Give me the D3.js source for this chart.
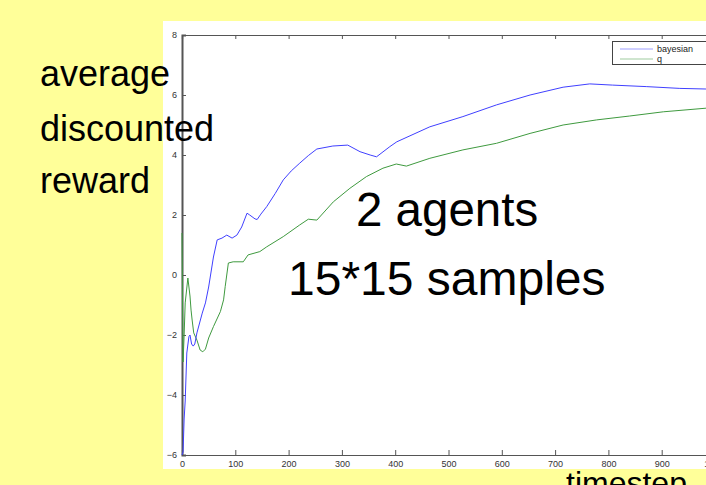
<!DOCTYPE html>
<html>
<head>
<meta charset="utf-8">
<script src="https://cdn.jsdelivr.net/npm/d3@7"></script>
<style>
  body { margin: 0; background: #ffff99; }
  svg { display: block; }
  .tick text { font-family: "Liberation Sans", Arial, sans-serif; font-size: 9px; fill: #333; }
  .big { font-family: "Liberation Sans", Arial, sans-serif; fill: #000; }
</style>
</head>
<body>
<script>

	// series
	var bayesT = [0, 2, 4, 6, 9, 13, 15, 18, 21, 24, 28, 38, 44, 50, 59, 66, 75, 84, 94, 103, 112, 122, 127, 137, 141, 148, 159, 175, 190, 205, 221, 237, 253, 283, 311, 334, 353, 365, 390, 403, 465, 527, 590, 653, 715, 765, 808, 871, 934, 983, 1000];
	var bayesV = [-6, -5.9, -4.8, -4.2, -2.6, -2.05, -2.0, -2.3, -2.37, -2.3, -1.93, -1.27, -0.93, -0.4, 0.6, 1.17, 1.23, 1.33, 1.23, 1.33, 1.6, 2.06, 2.0, 1.87, 1.85, 2.03, 2.28, 2.72, 3.17, 3.47, 3.73, 3.98, 4.2, 4.3, 4.33, 4.11, 4.0, 3.94, 4.28, 4.44, 4.94, 5.28, 5.67, 6.0, 6.26, 6.37, 6.33, 6.28, 6.22, 6.2, 6.2];

	var qT = [0, 1, 2, 4, 6, 11, 15, 17, 19, 22, 28, 34, 39, 44, 50, 59, 72, 78, 81, 87, 96, 115, 124, 146, 159, 190, 221, 237, 253, 284, 315, 346, 377, 402, 421, 465, 527, 590, 653, 715, 778, 840, 903, 983, 1000];
	var qV = [1.4, -1.0, -2.9, -2.0, -0.93, -0.1, -0.7, -1.17, -1.5, -1.93, -2.17, -2.5, -2.56, -2.47, -2.1, -1.72, -1.22, -0.83, -0.39, 0.4, 0.44, 0.44, 0.67, 0.78, 0.94, 1.28, 1.67, 1.86, 1.83, 2.44, 2.89, 3.28, 3.56, 3.7, 3.63, 3.89, 4.17, 4.39, 4.72, 5.0, 5.17, 5.3, 5.44, 5.56, 5.58];

	var seriesNames = ["bayesian", "q"];
	var seriesColors = ["#4040ff", "#3f9a3f"];
	var xTicks = [0, 100, 200, 300, 400, 500, 600, 700, 800, 900, 1000];
	var yTicks = [-6, -4, -2, 0, 2, 4, 6, 8];

	var width = 706, height = 485;

	var svg = d3.select( "body" )
	    .append( "svg" )
	    .attr( "width", width )
	    .attr( "height", height );

	// white figure panel
	svg.append( "rect" )
	    .attr( "x", 163 ).attr( "y", 21 )
	    .attr( "width", width - 163 ).attr( "height", 448 )
	    .attr( "fill", "white" );

	var x = d3.scaleLinear().domain( [0, 1000] ).range( [182, 715] );
	var y = d3.scaleLinear().domain( [-6, 8] ).range( [455, 35] );

	// axes, ticks inside like matlab
	var gx = svg.append( "g" ).attr( "transform", "translate(0," + y(-6) + ")" )
	    .call( d3.axisBottom( x ).tickValues( xTicks ).tickSize( -5 ).tickPadding( 6 ) );
	var gxt = svg.append( "g" ).attr( "transform", "translate(0," + y(8) + ")" )
	    .call( d3.axisTop( x ).tickValues( xTicks ).tickSize( -4 ).tickFormat( "" ) );
	var gy = svg.append( "g" ).attr( "transform", "translate(" + x(0) + ",0)" )
	    .call( d3.axisLeft( y ).tickValues( yTicks ).tickSize( -4 ).tickPadding( 5 ) );
	var gyr = svg.append( "g" ).attr( "transform", "translate(" + x(1000) + ",0)" )
	    .call( d3.axisRight( y ).tickValues( yTicks ).tickSize( -4 ).tickFormat( "" ) );

	svg.selectAll( ".domain" ).attr( "stroke", "#555" ).attr( "stroke-width", 1.2 );
	gy.select( ".domain" ).attr( "stroke-width", 2 );
	svg.selectAll( ".tick line" ).attr( "stroke", "#555" );

	var line = d3.line()
	    .x( function(d){ return x(d[0]); } )
	    .y( function(d){ return y(d[1]); } );

	var bayes = d3.zip( bayesT, bayesV );
	var qdata = d3.zip( qT, qV );

	svg.append( "path" ).datum( qdata )
	    .attr( "fill", "none" ).attr( "stroke", seriesColors[1] )
	    .attr( "stroke-width", 1 ).attr( "d", line );
	svg.append( "path" ).datum( bayes )
	    .attr( "fill", "none" ).attr( "stroke", seriesColors[0] )
	    .attr( "stroke-width", 1 ).attr( "d", line );

	// legend
	var lg = svg.append( "g" );
	lg.append( "rect" )
	    .attr( "x", 612.5 ).attr( "y", 41.5 )
	    .attr( "width", 110 ).attr( "height", 23 )
	    .attr( "fill", "white" ).attr( "stroke", "#444" );
	lg.selectAll( "g.item" )
	    .data( seriesNames )
	    .enter()
	    .append( "g" )
	    .attr( "class", "item" )
	    .each( function(d, i){
	        var gi = d3.select( this );
	        gi.append( "line" )
	            .attr( "x1", 620 ).attr( "x2", 653 )
	            .attr( "y1", 49 + i * 10 ).attr( "y2", 49 + i * 10 )
	            .attr( "stroke", seriesColors[i] ).attr( "stroke-opacity", 0.5 );
	        gi.append( "text" )
	            .attr( "x", 657 ).attr( "y", 52 + i * 10 )
	            .attr( "font-family", "Liberation Sans, Arial, sans-serif" )
	            .attr( "font-size", 9 ).attr( "fill", "#222" )
	            .text( d );
	    });

	// slide text
	var ylab = ["average", "discounted", "reward"];
	var ylabY = [86, 141, 193];
	svg.selectAll( "text.ylab" )
	    .data( ylab )
	    .enter()
	    .append( "text" )
	    .attr( "class", "big ylab" )
	    .attr( "x", 40 )
	    .attr( "y", function(d, i){ return ylabY[i]; } )
	    .attr( "font-size", 36 )
	    .text( function(d){ return d; } );

	svg.append( "text" ).attr( "class", "big" )
	    .attr( "x", 356 ).attr( "y", 226 ).attr( "font-size", 47.5 )
	    .text( "2 agents" );
	svg.append( "text" ).attr( "class", "big" )
	    .attr( "x", 288 ).attr( "y", 295 ).attr( "font-size", 48 )
	    .text( "15*15 samples" );
	svg.append( "text" ).attr( "class", "big" )
	    .attr( "x", 566 ).attr( "y", 494 ).attr( "font-size", 32 )
	    .text( "timestep" );

</script>
</body>
</html>
